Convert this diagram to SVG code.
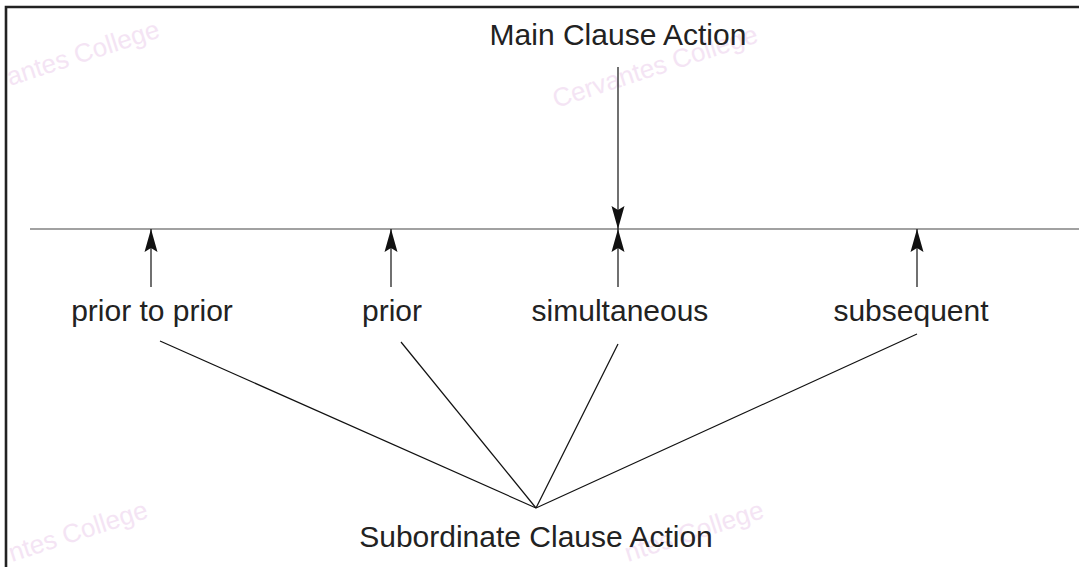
<svg xmlns="http://www.w3.org/2000/svg" width="1079" height="567" viewBox="0 0 1079 567">
<style>
.lbl{font-family:"Liberation Sans",Arial,Helvetica,sans-serif;font-size:30px;fill:#222;}
.wm{font-family:"Liberation Sans",Arial,sans-serif;font-size:26px;fill:#f4e4f4;}
.ln{stroke:#111;stroke-width:1.2;fill:none;}
</style>
<defs>
<marker id="ah" markerUnits="userSpaceOnUse" markerWidth="24" markerHeight="16" viewBox="-23 -8 24 16" refX="0" refY="0" orient="auto">
<path d="M0,0 L-23,-6.5 L-19,0 L-23,6.5 Z" fill="#111"/>
</marker>
</defs>
<rect width="1079" height="567" fill="#fff"/>
<g id="watermarks">
<text class="wm" transform="translate(10,86) rotate(-18)">antes College</text>
<text class="wm" transform="translate(556,108) rotate(-18)">Cervantes College</text>
<text class="wm" transform="translate(12,562) rotate(-18)">ntes College</text>
<text class="wm" transform="translate(628,562) rotate(-18)">ntes College</text>
</g>
<g id="frame">
<path d="M6,567 L6,7 L1079,7" stroke="#222" stroke-width="2.6" fill="none"/>
</g>
<g id="timeline">
<line x1="30" y1="229" x2="1079" y2="229" stroke="#444" stroke-width="1.2"/>
</g>
<g id="connectors">
<line class="ln" x1="618" y1="67" x2="618" y2="229" marker-end="url(#ah)"/>
<line class="ln" x1="151" y1="287" x2="151" y2="229" marker-end="url(#ah)"/>
<line class="ln" x1="391" y1="287" x2="391" y2="229" marker-end="url(#ah)"/>
<line class="ln" x1="618" y1="287" x2="618" y2="229" marker-end="url(#ah)"/>
<line class="ln" x1="917" y1="287" x2="917" y2="229" marker-end="url(#ah)"/>
<line class="ln" x1="160" y1="341" x2="536" y2="508"/>
<line class="ln" x1="401" y1="342" x2="536" y2="508"/>
<line class="ln" x1="618" y1="344" x2="536" y2="508"/>
<line class="ln" x1="917" y1="334" x2="536" y2="508"/>
</g>
<g id="main"><text class="lbl" x="618" y="45" text-anchor="middle">Main Clause Action</text></g>
<g id="priorprior"><text class="lbl" x="152" y="321" text-anchor="middle">prior to prior</text></g>
<g id="prior"><text class="lbl" x="392" y="321" text-anchor="middle">prior</text></g>
<g id="simultaneous"><text class="lbl" x="620" y="321" text-anchor="middle">simultaneous</text></g>
<g id="subsequent"><text class="lbl" x="911" y="321" text-anchor="middle">subsequent</text></g>
<g id="subordinate"><text class="lbl" x="536" y="547" text-anchor="middle">Subordinate Clause Action</text></g>
</svg>
